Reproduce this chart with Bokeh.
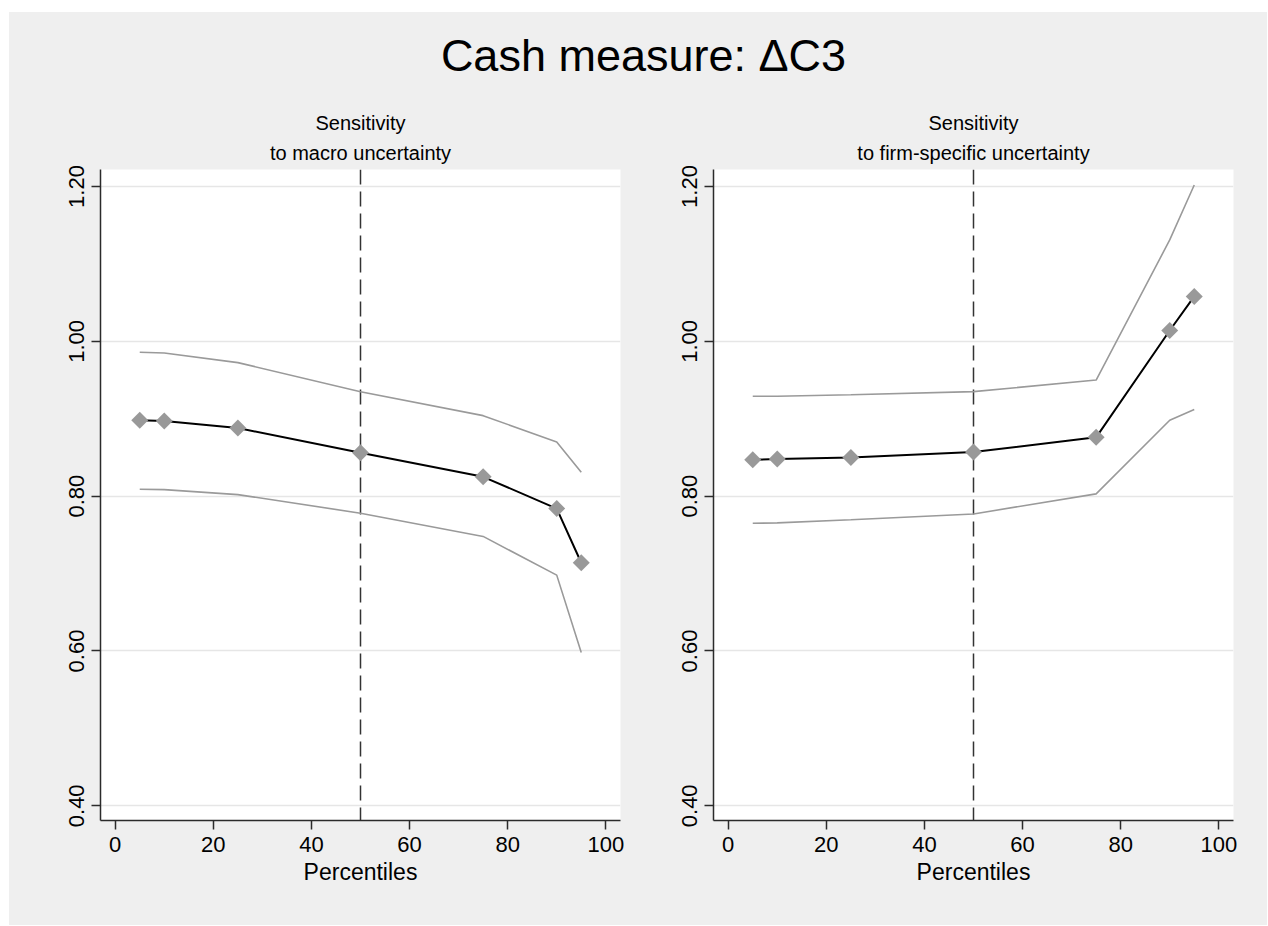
import numpy as np
from bokeh.plotting import figure
from bokeh.layouts import column, row
from bokeh.models import Div, Span, FixedTicker, NumeralTickFormatter, Range1d, Title
from bokeh.embed import file_html
from bokeh.resources import INLINE

# ---- data ----
pct = [5, 10, 25, 50, 75, 90, 95]
macro_est = [0.898, 0.897, 0.888, 0.856, 0.825, 0.784, 0.714]
macro_hi = [0.986, 0.985, 0.9725, 0.935, 0.904, 0.870, 0.831]
macro_lo = [0.809, 0.8085, 0.802, 0.778, 0.748, 0.698, 0.598]
firm_est = [0.847, 0.848, 0.850, 0.857, 0.876, 1.014, 1.058]
firm_hi = [0.929, 0.929, 0.931, 0.935, 0.950, 1.131, 1.202]
firm_lo = [0.765, 0.7655, 0.7695, 0.777, 0.803, 0.898, 0.912]
x_ticks = [0, 20, 40, 60, 80, 100]
y_ticks = [0.4, 0.6, 0.8, 1.0, 1.2]
median_pct = 50
main_title = "Cash measure: \u0394C3"
subtitle_top = "Sensitivity"
subtitle_bottom = ["to macro uncertainty", "to firm-specific uncertainty"]

BG = "#efefef"
FONT = "Liberation Sans"
CI_COL = "#9a9a9a"
AX_COL = "#2b2b2b"
TOTAL_W = 1258
TOTAL_H = 913
DIV_H = 73
FIG_H = TOTAL_H - DIV_H
TOP_B = 84
FRAME_H = 651
PAD_L = 11


def make_panel(est, hi, lo, sub2, width, border_left, border_right):
    p = figure(width=width, height=FIG_H, output_backend="svg", toolbar_location=None,
               x_range=Range1d(-3, 103), y_range=Range1d(0.381, 1.222),
               min_border_left=border_left, min_border_right=border_right,
               min_border_top=TOP_B, min_border_bottom=FIG_H - TOP_B - FRAME_H,
               background_fill_color="white", border_fill_color=BG,
               outline_line_color=None, title=None)
    # two centred subtitle lines (first added sits nearest the frame)
    t2 = Title(text=sub2, align="center", text_font=FONT, text_font_size="20px",
               text_font_style="normal", text_color="black", text_line_height=1.0,
               standoff=12)
    t1 = Title(text=subtitle_top, align="center", text_font=FONT, text_font_size="20px",
               text_font_style="normal", text_color="black", text_line_height=1.0,
               standoff=0)
    p.add_layout(t2, "above")
    p.add_layout(t1, "above")

    p.xgrid.visible = False
    p.ygrid.ticker = FixedTicker(ticks=y_ticks)
    p.ygrid.grid_line_color = "#e6e6e6"
    p.ygrid.grid_line_width = 1.5

    for ax in (p.xaxis[0], p.yaxis[0]):
        ax.axis_line_color = AX_COL
        ax.axis_line_width = 1.5
        ax.major_tick_line_color = AX_COL
        ax.major_tick_line_width = 1.5
        ax.major_tick_out = 9
        ax.major_tick_in = 0
        ax.minor_tick_line_color = None
        ax.major_label_text_font = FONT
        ax.major_label_text_font_size = "22px"
        ax.major_label_text_color = "black"

    p.xaxis.ticker = FixedTicker(ticks=x_ticks)
    p.xaxis.axis_label = "Percentiles"
    p.xaxis.axis_label_text_font = FONT
    p.xaxis.axis_label_text_font_size = "23px"
    p.xaxis.axis_label_text_font_style = "normal"
    p.xaxis.axis_label_text_color = "black"
    p.xaxis.axis_label_standoff = 4
    p.xaxis.major_label_standoff = 7

    p.yaxis.ticker = FixedTicker(ticks=y_ticks)
    p.yaxis.formatter = NumeralTickFormatter(format="0.00")
    p.yaxis.major_label_orientation = "vertical"
    p.yaxis.major_label_standoff = 7

    span = Span(location=median_pct, dimension="height", line_color="#333333",
                line_width=1.5, line_dash="15 7", level="underlay")
    p.add_layout(span)

    p.line(pct, hi, line_color=CI_COL, line_width=1.6)
    p.line(pct, lo, line_color=CI_COL, line_width=1.6)
    p.line(pct, est, line_color="black", line_width=2)
    p.scatter(pct, est, marker="square", size=12, angle=np.pi / 4,
              fill_color="#999999", line_color=None)
    return p


W1 = 651
p1 = make_panel(macro_est, macro_hi, macro_lo, subtitle_bottom[0], W1, 91, 40)
p2 = make_panel(firm_est, firm_hi, firm_lo, subtitle_bottom[1], TOTAL_W - W1, 53,
                TOTAL_W - W1 - 53 - 520)

title_div = Div(
    text=('<div style="display:block;box-sizing:border-box;width:%dpx;text-align:center;'
          'font-family:\'Liberation Sans\';font-size:45px;line-height:45px;padding-top:21px;'
          'padding-left:%dpx;color:black;">'
          % (TOTAL_W, PAD_L)
          + main_title + '</div>'),
    width=TOTAL_W, height=DIV_H, margin=0,
    styles={"background-color": BG},
)

layout = column(title_div, row(p1, p2, spacing=0), spacing=0,
                styles={"background-color": BG}, margin=(12, 0, 0, 9))

open("out.html", "w").write(file_html(layout, INLINE))
